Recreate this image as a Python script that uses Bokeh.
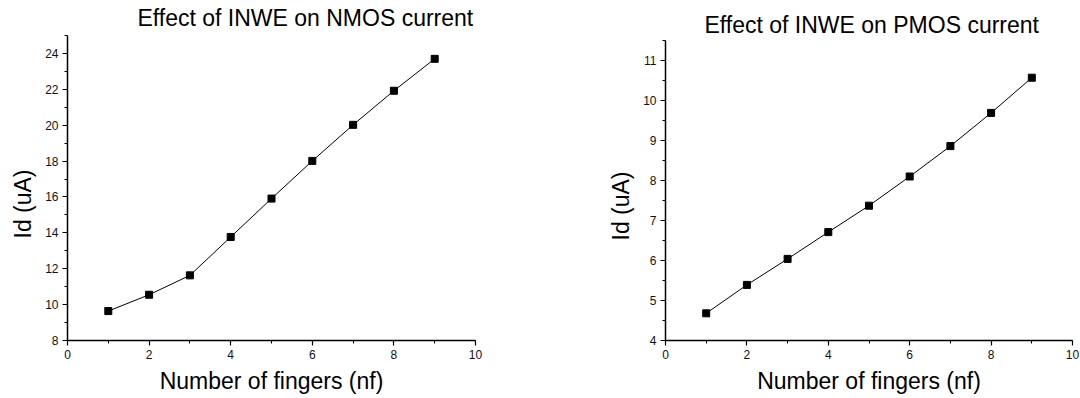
from bokeh.plotting import figure
from bokeh.layouts import row
from bokeh.models import Range1d, SingleIntervalTicker, Title
from bokeh.embed import file_html
from bokeh.resources import INLINE

# ---- data ----
nf = [1, 2, 3, 4, 5, 6, 7, 8, 9]
nmos_id = [9.64, 10.55, 11.63, 13.77, 15.91, 18.01, 20.02, 21.92, 23.70]
pmos_id = [4.68, 5.39, 6.04, 6.71, 7.37, 8.10, 8.86, 9.69, 10.57]
titles = ["Effect of INWE on NMOS current", "Effect of INWE on PMOS current"]
x_label = "Number of fingers (nf)"
y_label = "Id (uA)"

FONT = "Liberation Sans"


def make_plot(ys, title, yr, ybounds, y_int, width, height, borders,
              t_off, t_stand, t_valign, yl_off):
    bl, br, bt, bb = borders
    p = figure(width=width, height=height, output_backend="svg",
               toolbar_location=None,
               x_range=Range1d(0, 10), y_range=Range1d(*yr),
               min_border_left=bl, min_border_right=br,
               min_border_top=bt, min_border_bottom=bb)
    p.title = Title(text=title, align="left", offset=t_off, standoff=t_stand,
                    vertical_align=t_valign,
                    text_font=FONT, text_font_size="23px", text_font_style="normal",
                    text_color="black")
    p.outline_line_color = None
    p.xgrid.visible = False
    p.ygrid.visible = False
    p.xaxis.ticker = SingleIntervalTicker(interval=2, num_minor_ticks=2)
    p.yaxis.ticker = SingleIntervalTicker(interval=y_int, num_minor_ticks=2)
    p.yaxis.bounds = ybounds
    p.xaxis.axis_label = x_label
    for ax in (p.xaxis[0], p.yaxis[0]):
        ax.axis_line_width = 1.5
        ax.axis_line_color = "black"
        ax.major_tick_line_color = "black"
        ax.minor_tick_line_color = "black"
        ax.major_tick_line_width = 1.2
        ax.minor_tick_line_width = 1
        ax.major_tick_in = 0
        ax.major_tick_out = 5
        ax.minor_tick_in = 0
        ax.minor_tick_out = 3
        ax.major_label_text_font = FONT
        ax.major_label_text_font_size = "12px"
        ax.major_label_text_color = "#111111"
        ax.major_label_standoff = 4
        ax.axis_label_text_font = FONT
        ax.axis_label_text_font_size = "23px"
        ax.axis_label_text_font_style = "normal"
        ax.axis_label_text_color = "black"
        ax.axis_label_standoff = 6
    # y-axis label as a side title so it can sit off-centre like the reference
    p.add_layout(Title(text=y_label, align="left", offset=yl_off, standoff=13,
                       vertical_align="bottom",
                       text_font=FONT, text_font_size="23px", text_font_style="normal",
                       text_color="black"), "left")
    p.line(nf, ys, line_color="black", line_width=1)
    p.scatter(nf, ys, marker="square", size=7, fill_color="black", line_color="black")
    return p


p1 = make_plot(nmos_id, titles[0], (8, 25), (8, 25), 2, 540, 398, (67, 65, 35, 58),
               70, 5, "top", 102)
p2 = make_plot(pmos_id, titles[1], (4, 11.625), (4, 11.5), 1, 540, 398, (125, 8, 35, 58),
               39, -4, "bottom", 100)

layout = row(p1, p2)
open("out.html", "w").write(file_html(layout, INLINE))
